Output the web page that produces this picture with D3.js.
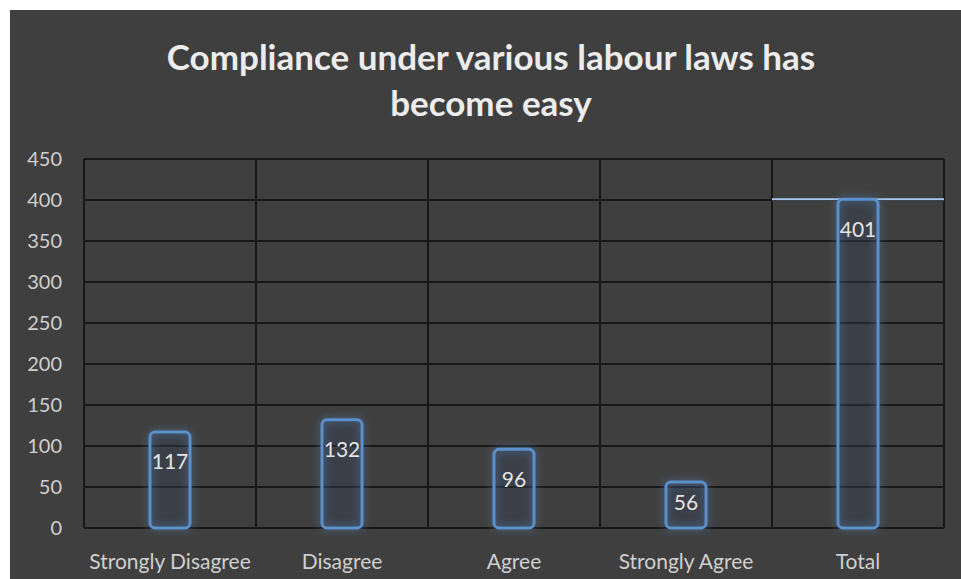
<!DOCTYPE html>
<html><head><meta charset="utf-8">
<script src="https://cdn.jsdelivr.net/npm/d3@7"></script>
<style>
html,body{margin:0;padding:0;background:#fff;}
svg{display:block;}
</style></head>
<body>
<script>
const categories = ["Strongly Disagree","Disagree","Agree","Strongly Agree","Total"];
const values = [117,132,96,56,401];
const yTicks = [0,50,100,150,200,250,300,350,400,450];
const titleLines = ["Compliance under various labour laws has","become easy"];

const W = 961, H = 579;
const svg = d3.select("body").append("svg").attr("width",W).attr("height",H);

svg.append("rect").attr("x",10).attr("y",10).attr("width",W-10).attr("height",H-10).attr("fill","#3f3f3f");

const defs = svg.append("defs");
const f = defs.append("filter").attr("id","glow").attr("x","-60%").attr("y","-60%").attr("width","220%").attr("height","220%");
f.append("feGaussianBlur").attr("in","SourceGraphic").attr("stdDeviation",4).attr("result","b");
f.append("feComponentTransfer").attr("in","b").attr("result","b2")
  .append("feFuncA").attr("type","linear").attr("slope",0.7);
const m = f.append("feMerge");
m.append("feMergeNode").attr("in","b2");
m.append("feMergeNode").attr("in","SourceGraphic");

const plot = {left:84,right:944,top:159,bottom:528};
const x = d3.scaleBand().domain(categories).range([plot.left,plot.right]).paddingInner(0).paddingOuter(0);
const y = d3.scaleLinear().domain([0,450]).range([plot.bottom,plot.top]);

svg.append("g").selectAll("line").data(yTicks).join("line")
  .attr("x1",plot.left).attr("x2",plot.right)
  .attr("y1",d=>y(d)).attr("y2",d=>y(d))
  .attr("stroke","#181818").attr("stroke-width",2);
const bounds = categories.map(c=>x(c)).concat([plot.right]);
svg.append("g").selectAll("line").data(bounds).join("line")
  .attr("x1",d=>d).attr("x2",d=>d)
  .attr("y1",plot.top).attr("y2",plot.bottom)
  .attr("stroke","#181818").attr("stroke-width",2);

svg.append("g").selectAll("text").data(yTicks).join("text")
  .attr("x",62).attr("y",d=>y(d)).attr("dy","0.35em")
  .attr("text-anchor","end").attr("fill","#cfcfcf")
  .attr("font-family","Lato, 'Open Sans', sans-serif").attr("font-size",20)
  .text(d=>d);

svg.append("g").selectAll("text").data(categories).join("text")
  .attr("x",d=>x(d)+x.bandwidth()/2).attr("y",562).attr("dy","0.35em")
  .attr("text-anchor","middle").attr("fill","#cfcfcf")
  .attr("font-family","Lato, 'Open Sans', sans-serif").attr("font-size",21)
  .text(d=>d);

const totalIdx = categories.length-1;
svg.append("line")
  .attr("x1",x(categories[totalIdx])).attr("x2",plot.right)
  .attr("y1",y(values[totalIdx])).attr("y2",y(values[totalIdx]))
  .attr("stroke","#a9c8ec").attr("stroke-width",2);

const bw = 40;
svg.append("g").selectAll("rect").data(values).join("rect")
  .attr("x",(d,i)=>x(categories[i])+x.bandwidth()/2-bw/2)
  .attr("y",d=>y(d))
  .attr("width",bw)
  .attr("height",d=>plot.bottom-y(d))
  .attr("rx",5).attr("ry",5)
  .attr("fill","rgba(50,65,85,0.25)")
  .attr("stroke","#5a90cc").attr("stroke-width",3)
  .attr("filter","url(#glow)");

svg.append("g").selectAll("text").data(values).join("text")
  .attr("x",(d,i)=>x(categories[i])+x.bandwidth()/2)
  .attr("y",d=>Math.min(y(d)+30, plot.bottom-25))
  .attr("dy","0.35em")
  .attr("text-anchor","middle").attr("fill","#e4e4e4")
  .attr("font-family","Lato, 'Open Sans', sans-serif").attr("font-size",21)
  .text(d=>d);

svg.append("g").selectAll("text").data(titleLines).join("text")
  .attr("x",491).attr("y",(d,i)=>58+i*46).attr("dy","0.35em")
  .attr("text-anchor","middle").attr("fill","#ececec")
  .attr("font-family","Lato, 'Open Sans', sans-serif").attr("font-weight","bold").attr("font-size",35)
  .text(d=>d);
</script>
</body></html>
